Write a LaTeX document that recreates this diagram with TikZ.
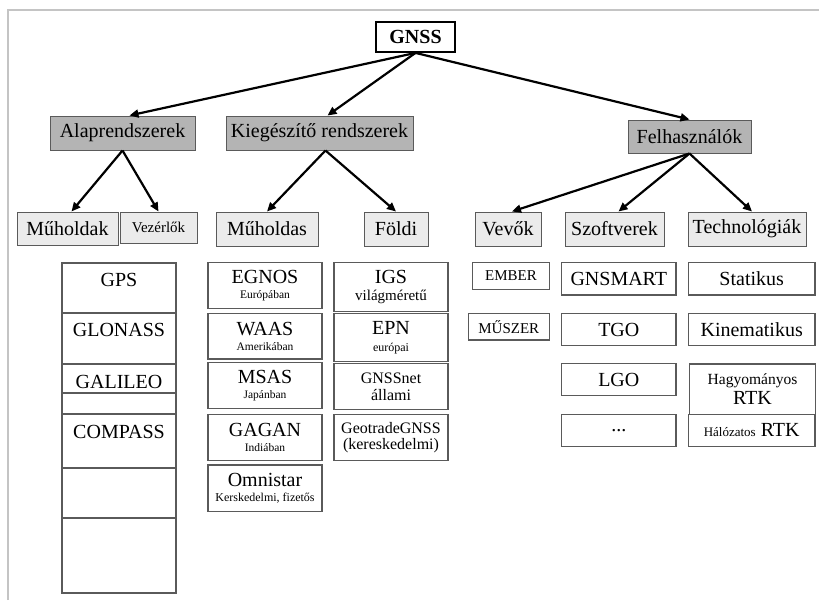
\documentclass[tikz,border=0pt]{standalone}
\usepackage{fontspec}
\setmainfont{Liberation Serif}
\usetikzlibrary{arrows.meta}
\newcommand\fsz[2]{\fontsize{#1}{#2}\selectfont}
\definecolor{framegray}{HTML}{C4C4C4}
\definecolor{headgray}{HTML}{B4B4B4}
\definecolor{subgray}{HTML}{EBEBEB}
\definecolor{edgegray}{HTML}{5A5A5A}
\tikzset{
  topbox/.style={draw=black, line width=1.8pt, fill=white, font=\bfseries\fsz{20}{22}, minimum width=79, minimum height=30, inner sep=0},
  headbox/.style={draw=edgegray, line width=1pt, fill=headgray, font=\fsz{20}{22}, minimum height=34, inner sep=0},
  subbox/.style={draw=edgegray, line width=1pt, fill=subgray, font=\fsz{20}{22}, minimum height=34, inner sep=0},
  cell/.style={draw=edgegray, line width=1.2pt, fill=white, font=\fsz{20}{17}, align=center, inner sep=0},
  arr/.style={-{Triangle[length=9pt,width=8pt]}, line width=2.2pt},
}

\begin{document}
\begin{tikzpicture}[x=1pt, y=-1pt]
			%%%%% FRAME %%%%%
			\useasboundingbox (0, 0) rectangle (819, 600);
			\draw[framegray, line width=2pt] (8, 600) -- (8, 10) -- (819, 10);
			
			%%%%% TREE %%%%%
			\node[topbox] (gnss) at (415.5, 37) {GNSS};
			
			\node[headbox, minimum width=145] (alap) at (122.5, 133) {Alaprendszerek};
			\node[headbox, minimum width=187] (kieg) at (319.5, 133) {Kiegészítő rendszerek};
			\node[headbox, minimum width=123, minimum height=33] (felh) at (689.5, 136.5) {Felhasználók};
			
			\node[subbox, minimum width=101, minimum height=33] (muholdak) at (67.5, 228.5) {Műholdak};
			\node[subbox, minimum width=77, minimum height=31, font=\fsz{15}{17}] (vezerlok) at (158.5, 227.5) {Vezérlők};
			\node[subbox, minimum width=102] (muholdas) at (267, 229) {Műholdas};
			\node[subbox, minimum width=64] (foldi) at (396, 229) {Földi};
			\node[subbox, minimum width=66] (vevok) at (508, 229) {Vevők};
			\node[subbox, minimum width=99] (szoftver) at (614.5, 229) {Szoftverek};
			\node[subbox, minimum width=118] (techno) at (747, 229) {Technológiák};
			
			\draw[arr] (gnss.south) -- ([xshift=7]alap.north);
			\draw[arr] (gnss.south) -- ([xshift=8]kieg.north);
			\draw[arr] (gnss.south) -- (felh.north);
			
			\draw[arr] (alap.south) -- ([xshift=4]muholdak.north);
			\draw[arr] (alap.south) -- (vezerlok.north);
			\draw[arr] ([xshift=6]kieg.south) -- (muholdas.north);
			\draw[arr] ([xshift=6]kieg.south) -- (foldi.north);
			\draw[arr] (felh.south) -- ([xshift=4]vevok.north);
			\draw[arr] (felh.south) -- ([xshift=4]szoftver.north);
			\draw[arr] (felh.south) -- ([xshift=5]techno.north);
			
			%%%%% ALAPRENDSZEREK %%%%%
			\draw[edgegray, line width=1.2pt] (62, 263) rectangle (176, 593);
			\draw[edgegray, line width=1.2pt] (62, 313) -- (176, 313);
			\draw[edgegray, line width=1.2pt] (62, 364) -- (176, 364);
			\draw[edgegray, line width=1.2pt] (62, 393) -- (176, 393);
			\draw[edgegray, line width=1.2pt] (62, 414) -- (176, 414);
			\draw[edgegray, line width=1.2pt] (62, 468) -- (176, 468);
			\draw[edgegray, line width=1.2pt] (62, 518) -- (176, 518);
			\node[font=\fsz{20}{22}] (gps) at (119, 279.5) {GPS};
			\node[font=\fsz{20}{22}] (glonass) at (119, 330) {GLONASS};
			\node[font=\fsz{20}{22}] (galileo) at (119, 381.5) {GALILEO};
			\node[font=\fsz{20}{22}] (compass) at (119, 431.5) {COMPASS};
			
			%%%%% KIEGESZITO %%%%%
			\node[cell, minimum width=114, minimum height=45.6] (egnos) at (265, 285.5) {EGNOS\\[-1.5pt]{\fsz{11.5}{13}Európában}};
			\node[cell, minimum width=114, minimum height=45.7] (waas) at (265, 336.2) {WAAS\\[-1.5pt]{\fsz{11.5}{13}Amerikában}};
			\node[cell, minimum width=114, minimum height=45.6] (msas) at (265, 385.5) {MSAS\\[-1.5pt]{\fsz{11.5}{13}Japánban}};
			\node[cell, minimum width=114, minimum height=46.4] (gagan) at (265, 437.5) {GAGAN\\[-1.5pt]{\fsz{11.5}{13}Indiában}};
			\node[cell, minimum width=114, minimum height=46.7] (omni) at (265, 488.3) {Omnistar\\[-1.5pt]{\fsz{12}{13}Kerskedelmi, fizetős}};
			
			\node[cell, minimum width=114, minimum height=49] (igs) at (391, 287.2) {IGS\\[0.5pt]{\fsz{15}{17}világméretű}};
			\node[cell, minimum width=114, minimum height=48.4] (epn) at (391, 337.5) {EPN\\[0.5pt]{\fsz{12}{13}európai}};
			\node[cell, minimum width=114, minimum height=46, font=\fsz{16}{17}] (gnssnet) at (391, 386.3) {GNSSnet\\állami};
			\node[cell, minimum width=114, minimum height=46.4, font=\fsz{16}{16}] (geotrade) at (391, 437.5) {GeotradeGNSS\\(kereskedelmi)};
			
			%%%%% FELHASZNALOK %%%%%
			\node[cell, minimum width=76.6, minimum height=26.6, font=\fsz{15}{17}] (ember) at (511, 276) {EMBER};
			\node[cell, minimum width=81, minimum height=26.7, font=\fsz{15}{17}] (muszer) at (508.8, 326.7) {MŰSZER};
			
			\node[cell, minimum width=114.3, minimum height=32.3] (gnsmart) at (618.8, 278.8) {GNSMART};
			\node[cell, minimum width=114.3, minimum height=32.3] (tgo) at (618.8, 329.5) {TGO};
			\node[cell, minimum width=114.3, minimum height=32.3] (lgo) at (618.8, 379.7) {LGO};
			\node[cell, minimum width=114.3, minimum height=32.3] (etc) at (618.8, 430.5) {...};
			
			\node[cell, minimum width=126.7, minimum height=32.3] (statikus) at (751.7, 278.8) {Statikus};
			\node[cell, minimum width=126.7, minimum height=32.3] (kinem) at (751.7, 329.5) {Kinematikus};
			\node[cell, minimum width=126.7, minimum height=50.3] (hagyrtk) at (752.5, 389.2) {{\fsz{15.5}{17}Hagyományos}\\[3pt]RTK};
			\node[cell, minimum width=126.7, minimum height=32.3] (halrtk) at (751.7, 430.5) {{\fsz{13}{15}Hálózatos} RTK};
			
		\end{tikzpicture}
\end{document}
